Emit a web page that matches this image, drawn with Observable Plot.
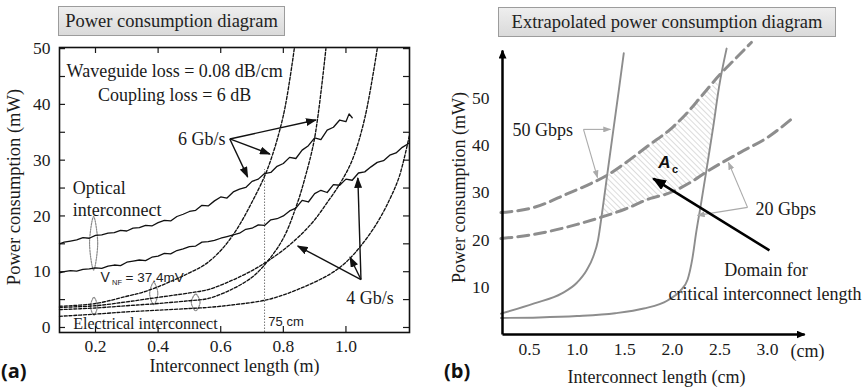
<!DOCTYPE html>
<html><head><meta charset="utf-8">
<script src="https://cdn.jsdelivr.net/npm/d3@7"></script>
<script src="https://cdn.jsdelivr.net/npm/@observablehq/plot@0.6"></script>
<style>
body{margin:0;background:#fff;}
#wrap{position:relative;width:868px;height:388px;overflow:hidden;background:#fff;}
#wrap svg{position:absolute;top:0;overflow:visible;}
.titlebox{position:absolute;box-sizing:border-box;border:1px solid #9c9c9c;background:linear-gradient(#eeeeee,#dadada);font-family:"Liberation Serif",serif;font-size:18.5px;color:#222;display:flex;align-items:center;justify-content:center;white-space:nowrap;}
.panel{position:absolute;font-family:"Open Sans",sans-serif;font-weight:700;font-size:20px;color:#111;line-height:1;}
</style></head><body><div id="wrap"></div>
<script>
// ================= Panel (a) data =================
const xTicksA = [0.2, 0.4, 0.6, 0.8, 1.0];
const yTicksA = [0, 10, 20, 30, 40, 50];
const yMinorTicksA = [0, 5, 10, 15, 20, 25, 30, 35, 40, 45, 50];

// optical interconnect, 6 Gb/s (solid, noisy)
const optical6Gb = [[0.085,15.0],[0.10,15.3],[0.12,15.5],[0.14,15.7],[0.16,16.1],[0.18,16.0],[0.20,16.5],[0.22,16.6],[0.24,16.9],[0.26,17.0],[0.28,17.4],[0.30,17.3],[0.32,17.8],[0.34,17.9],[0.36,18.3],[0.38,18.2],[0.40,18.8],[0.42,19.2],[0.44,19.1],[0.46,19.9],[0.48,20.3],[0.50,20.8],[0.52,21.0],[0.54,21.9],[0.56,21.8],[0.58,22.7],[0.60,23.4],[0.62,23.2],[0.64,24.3],[0.66,24.8],[0.68,25.1],[0.70,26.2],[0.72,26.6],[0.74,27.6],[0.76,27.8],[0.78,28.9],[0.80,29.4],[0.82,30.5],[0.84,30.3],[0.86,31.8],[0.88,32.6],[0.90,34.0],[0.92,33.7],[0.94,35.4],[0.96,35.9],[0.98,37.2],[1.00,36.9],[1.01,38.3],[1.02,37.6]];
// optical interconnect, 4 Gb/s (solid, noisy)
const optical4Gb = [[0.085,9.8],[0.10,10.0],[0.12,10.2],[0.14,10.1],[0.16,10.4],[0.18,10.5],[0.20,10.7],[0.22,10.6],[0.24,11.0],[0.26,11.2],[0.28,11.1],[0.30,11.7],[0.32,11.9],[0.34,12.1],[0.36,12.0],[0.38,12.6],[0.40,12.8],[0.42,13.3],[0.44,13.2],[0.46,13.8],[0.48,14.1],[0.50,14.5],[0.52,14.6],[0.54,15.3],[0.56,15.4],[0.58,15.6],[0.60,16.0],[0.62,16.3],[0.64,16.6],[0.66,16.9],[0.68,17.6],[0.70,17.8],[0.72,18.4],[0.74,18.3],[0.76,19.3],[0.78,19.5],[0.80,20.0],[0.82,20.9],[0.84,21.4],[0.86,22.8],[0.88,22.5],[0.90,24.0],[0.92,24.6],[0.94,24.2],[0.96,25.6],[0.98,25.5],[1.00,26.6],[1.02,26.4],[1.04,27.7],[1.06,27.9],[1.08,28.8],[1.10,29.6],[1.12,29.9],[1.14,30.9],[1.16,31.3],[1.18,32.3],[1.20,33.0]];
// electrical interconnect (dashed)
const electrical6GbHigh = [[0.085,3.8],[0.2,4.3],[0.3,5.6],[0.35,6.3],[0.4,7.3],[0.45,8.5],[0.5,9.8],[0.55,11.3],[0.6,13.8],[0.65,17.5],[0.7,22.5],[0.75,28.5],[0.8,38],[0.835,50]];
const electrical4GbHigh = [[0.085,3.6],[0.2,3.9],[0.3,4.6],[0.4,5.4],[0.5,6.2],[0.56,6.8],[0.63,8.3],[0.7,10.2],[0.75,11.9],[0.8,13.9],[0.85,16.3],[0.9,19.3],[0.94,22.4],[0.98,25.7],[1.02,30],[1.06,37.5],[1.1,50]];
const electrical6GbLow = [[0.085,3.2],[0.2,3.5],[0.3,3.9],[0.4,4.3],[0.5,4.8],[0.56,5.2],[0.63,6.7],[0.7,9.0],[0.75,11.9],[0.8,16.0],[0.843,22.0],[0.87,27],[0.9,34],[0.936,50]];
const electrical4GbLow = [[0.085,2.0],[0.2,2.4],[0.3,2.8],[0.4,3.1],[0.5,3.4],[0.56,3.6],[0.63,4.0],[0.75,5.0],[0.85,6.9],[0.95,9.6],[1.0,11.7],[1.05,14.8],[1.1,18.8],[1.14,23.0],[1.17,27.0],[1.203,34.5]];
const lengthMark = 0.74;      // "75 cm"
const lengthMarkTop = 28.3;

// ================= Panel (b) data =================
const xTicksB = [0.5, 1.0, 1.5, 2.0, 2.5, 3.0];
const yTicksB = [10, 20, 30, 40, 50];
const electrical50G = [[0.2,4.4],[0.55,6.6],[0.84,8.7],[1.0,11.0],[1.1,13.6],[1.17,16.5],[1.22,20.0],[1.26,25.4],[1.315,33.6],[1.38,43.2],[1.44,52.0],[1.49,59.5]];
const electrical20G = [[0.2,3.5],[0.6,3.6],[1.0,3.9],[1.4,4.5],[1.7,5.5],[1.95,7.2],[2.08,9.2],[2.16,11.6],[2.21,16],[2.25,21.5],[2.3,27.5],[2.36,35],[2.43,44],[2.49,52.3],[2.57,60.5]];
const optical50G = [[0.2,25.8],[0.55,26.9],[0.9,29.8],[1.15,32.0],[1.315,33.7],[1.5,36.2],[1.75,40.0],[2.0,43.8],[2.16,47.0],[2.3,50.3],[2.5,55.0],[2.66,58.3],[2.83,61.8]];
const optical20G = [[0.2,20.3],[0.55,21.2],[1.0,23.3],[1.25,24.8],[1.5,26.5],[1.77,28.8],[1.95,29.8],[2.2,32.3],[2.35,34.3],[2.72,38.6],[3.0,41.7],[3.27,45.9]];
const criticalDomain = [[1.26,24.9],[1.315,33.7],[1.5,36.2],[1.75,40.0],[2.0,43.8],[2.16,47.0],[2.3,50.3],[2.485,54.0],[2.43,44.5],[2.36,35.0],[2.35,34.3],[2.2,32.3],[1.95,29.8],[1.77,28.8],[1.5,26.5],[1.26,24.9]];

// ================= annotations (data coordinates) =================
const centeredA = [
  {x:0.453, y:45.9, t:"Waveguide loss = 0.08 dB/cm"},
  {x:0.453, y:41.7, t:"Coupling loss = 6 dB"},
  {x:0.539, y:33.7, t:"6 Gb/s"},
  {x:1.077, y:5.3, t:"4 Gb/s"}
];
const leftA = [
  {x:0.127, y:24.9, t:"Optical"},
  {x:0.127, y:21.0, t:"interconnect"}
];
const elecLabelA = [{x:0.129, y:0.6, t:"Electrical interconnect"}];
const arrowsA = [
  {x1:0.629,y1:33.8,x2:0.904,y2:37.2},{x1:0.629,y1:33.8,x2:0.757,y2:31.1},{x1:0.629,y1:33.8,x2:0.686,y2:27.0},
  {x1:1.048,y1:8.6,x2:1.038,y2:26.8},{x1:1.048,y1:8.6,x2:1.013,y2:12.6},{x1:1.048,y1:8.6,x2:0.846,y2:14.6}
];
const ellipsesA = [
  {id:1, cx:0.194, cy:15.1, rx:0.013, ry:4.8},
  {id:2, cx:0.195, cy:3.8, rx:0.011, ry:1.6},
  {id:3, cx:0.386, cy:6.1, rx:0.013, ry:2.0},
  {id:4, cx:0.52, cy:4.5, rx:0.014, ry:1.5}
];
const ellipsePts = ellipsesA.flatMap(e => [
  {id:e.id, x:e.cx, y:e.cy+e.ry},{id:e.id, x:e.cx+e.rx, y:e.cy},
  {id:e.id, x:e.cx, y:e.cy-e.ry},{id:e.id, x:e.cx-e.rx, y:e.cy}]);

const axisEndsB = [{x1:0.2164,y1:0,x2:3.39,y2:0},{x1:0.2164,y1:0,x2:0.2164,y2:60.1}];
const greyArrowsB = [
  {x1:1.067,y1:43.4,x2:1.35,y2:43.4},{x1:1.067,y1:43.4,x2:1.214,y2:33.2},
  {x1:2.79,y1:26.9,x2:2.265,y2:25.2},{x1:2.79,y1:26.9,x2:2.59,y2:36.4}
];
const pointerB = [{x1:3.02,y1:17.8,x2:1.80,y2:33.0}];
const leftB = [
  {x:0.321, y:43.2, t:"50 Gbps"},
  {x:2.874, y:26.6, t:"20 Gbps"}
];
const centeredB = [
  {x:2.984, y:13.7, t:"Domain for"},
  {x:2.974, y:8.6, t:"critical interconnect length"}
];

// ================= helpers =================
const NS = "http://www.w3.org/2000/svg";
function addDefs(svg, html){ const d=document.createElementNS(NS,"defs"); d.innerHTML=html; svg.insertBefore(d, svg.firstChild); }
function head(id,color,len,wid){ return `<marker id="${id}" viewBox="0 0 10 10" refX="9" refY="5" markerUnits="userSpaceOnUse" markerWidth="${len}" markerHeight="${wid}" orient="auto" preserveAspectRatio="none"><path d="M0,0L10,5L0,10z" fill="${color}"/></marker>`; }
const px = d => d[0], py = d => d[1];
const serif = "Liberation Serif";
const sans = "Liberation Sans";

// ================= Panel (a) =================
const dashA = {x:px, y:py, stroke:"#111", strokeWidth:1.35, strokeDasharray:"3,1.8", curve:"catmull-rom"};
const svgA = Plot.plot({
  width: 434, height: 388,
  marginLeft: 59, marginRight: 25, marginTop: 47, marginBottom: 56,
  style: {background:"transparent", fontFamily: serif, fontSize:"17.5px", color:"#1a1a1a", overflow:"visible"},
  x: {domain:[0.085,1.203], ticks:xTicksA, tickFormat:d=>d.toFixed(1), tickSize:0, tickPadding:7, label:null},
  y: {domain:[-0.9,50.2], ticks:yTicksA, tickSize:0, tickPadding:9, label:null},
  marks: [
    Plot.tickX(xTicksA, {x:d=>d, insetTop:279, stroke:"#1a1a1a", strokeWidth:1.2}),
    Plot.tickX(xTicksA, {x:d=>d, insetBottom:279, stroke:"#1a1a1a", strokeWidth:1.2}),
    Plot.tickY(yMinorTicksA, {y:d=>d, insetRight:344, stroke:"#1a1a1a", strokeWidth:1.2}),
    Plot.tickY(yMinorTicksA, {y:d=>d, insetLeft:344, stroke:"#1a1a1a", strokeWidth:1.2}),
    Plot.ruleX([lengthMark], {y1:-0.9, y2:lengthMarkTop, stroke:"#777", strokeWidth:1, strokeDasharray:"1.5,1.5"}),
    Plot.line(ellipsePts, {x:"x", y:"y", z:"id", curve:"cardinal-closed", stroke:"#8a8a8a", strokeWidth:1.2, strokeDasharray:"1.5,1.2"}),
    Plot.line(electrical6GbHigh, dashA),
    Plot.line(electrical4GbHigh, dashA),
    Plot.line(electrical6GbLow, dashA),
    Plot.line(electrical4GbLow, dashA),
    Plot.line(optical6Gb, {x:px, y:py, stroke:"#111", strokeWidth:1.3}),
    Plot.line(optical4Gb, {x:px, y:py, stroke:"#111", strokeWidth:1.3}),
    Plot.link(arrowsA, {x1:"x1", y1:"y1", x2:"x2", y2:"y2", stroke:"#111", strokeWidth:1.4}),
    Plot.text(centeredA, {x:"x", y:"y", text:"t", textAnchor:"middle", fontSize:18, fontFamily:serif, fill:"#1a1a1a"}),
    Plot.text(leftA, {x:"x", y:"y", text:"t", textAnchor:"start", fontSize:18, fontFamily:serif, fill:"#1a1a1a"}),
    Plot.text(elecLabelA, {x:"x", y:"y", text:"t", textAnchor:"start", fontSize:16, fontFamily:serif, fill:"#1a1a1a"}),
    Plot.text([{x:0.216,y:9.0,t:"V"}], {x:"x", y:"y", text:"t", textAnchor:"start", fontSize:14, fontFamily:sans, fill:"#222"}),
    Plot.text([{x:0.253,y:8.1,t:"NF"}], {x:"x", y:"y", text:"t", textAnchor:"start", fontSize:7.5, fontFamily:sans, fill:"#222"}),
    Plot.text([{x:0.296,y:9.0,t:"= 37.4mV"}], {x:"x", y:"y", text:"t", textAnchor:"start", fontSize:13.5, fontFamily:sans, fill:"#222"}),
    Plot.text([{x:0.752,y:1.0,t:"75 cm"}], {x:"x", y:"y", text:"t", textAnchor:"start", fontSize:13, fontFamily:sans, fill:"#222"}),
    Plot.text(["Interconnect length (m)"], {frameAnchor:"bottom", textAnchor:"middle", dy:39, fontSize:18, fontFamily:serif, fill:"#1a1a1a"}),
    Plot.text(["Power consumption (mW)"], {frameAnchor:"left", textAnchor:"middle", dx:-45, dy:-3, rotate:-90, fontSize:18.5, fontFamily:serif, fill:"#1a1a1a"}),
    Plot.frame({stroke:"#111", strokeWidth:1.6})
  ]
});
addDefs(svgA, head("hdA","#111",11,8));
svgA.querySelectorAll('g[aria-label="link"] path').forEach(p => p.setAttribute("marker-end","url(#hdA)"));

// ================= Panel (b) =================
const greyB = "#8d8d8d";
const svgB = Plot.plot({
  width: 434, height: 388,
  marginLeft: 68, marginRight: 48.6, marginTop: 41, marginBottom: 54,
  style: {background:"transparent", fontFamily: serif, fontSize:"17.5px", color:"#1a1a1a", overflow:"visible"},
  x: {domain:[0.2164,3.55], ticks:xTicksB, tickFormat:d=>d.toFixed(1), tickSize:0, tickPadding:8, label:null},
  y: {domain:[0,62], ticks:yTicksB, tickSize:0, tickPadding:13, label:null},
  marks: [
    Plot.line(criticalDomain, {x:px, y:py, fill:"url(#hatchB)", stroke:"none"}),
    Plot.line(electrical50G, {x:px, y:py, stroke:greyB, strokeWidth:1.9, curve:"monotone-x"}),
    Plot.line(electrical20G, {x:px, y:py, stroke:greyB, strokeWidth:1.9, curve:"monotone-x"}),
    Plot.line(optical50G, {x:px, y:py, stroke:greyB, strokeWidth:3, strokeDasharray:"11,6", curve:"monotone-x"}),
    Plot.line(optical20G, {x:px, y:py, stroke:greyB, strokeWidth:3, strokeDasharray:"11,6", curve:"monotone-x"}),
    Plot.link(axisEndsB, {x1:"x1", y1:"y1", x2:"x2", y2:"y2", stroke:"#000", strokeWidth:2.5}),
    Plot.link(greyArrowsB, {x1:"x1", y1:"y1", x2:"x2", y2:"y2", stroke:"#aaaaaa", strokeWidth:1.1}),
    Plot.link(pointerB, {x1:"x1", y1:"y1", x2:"x2", y2:"y2", stroke:"#000", strokeWidth:2.6}),
    Plot.text(leftB, {x:"x", y:"y", text:"t", textAnchor:"start", fontSize:18, fontFamily:serif, fill:"#1a1a1a"}),
    Plot.text(centeredB, {x:"x", y:"y", text:"t", textAnchor:"middle", fontSize:18, fontFamily:serif, fill:"#1a1a1a"}),
    Plot.text([{x:1.918,y:36.4,t:"A"}], {x:"x", y:"y", text:"t", fontSize:17, fontWeight:"bold", fontStyle:"italic", fontFamily:sans, fill:"#111"}),
    Plot.text([{x:2.03,y:34.9,t:"c"}], {x:"x", y:"y", text:"t", fontSize:11, fontWeight:"bold", fontFamily:sans, fill:"#111"}),
    Plot.text([{x:3.42,y:0,t:"(cm)"}], {x:"x", y:"y", text:"t", dy:17, fontSize:18, fontFamily:serif, fill:"#1a1a1a"}),
    Plot.text([{x:1.834,y:0,t:"Interconnect length (cm)"}], {x:"x", y:"y", text:"t", dy:43, fontSize:18, fontFamily:serif, fill:"#1a1a1a"}),
    Plot.text([{x:0.2164,y:31.1,t:"Power consumption (mW)"}], {x:"x", y:"y", text:"t", textAnchor:"middle", dx:-43, rotate:-90, fontSize:18, fontFamily:serif, fill:"#1a1a1a"})
  ]
});
addDefs(svgB,
  `<pattern id="hatchB" patternUnits="userSpaceOnUse" width="4" height="4" patternTransform="rotate(-45)"><line x1="0" y1="0" x2="0" y2="4" stroke="#b9b9b9" stroke-width="1"/></pattern>` +
  head("hdAxis","#000",9,8) + head("hdGrey","#aaaaaa",8,6) + head("hdPtr","#000",14,11));
const linkGroupsB = svgB.querySelectorAll('g[aria-label="link"]');
const markerIds = ["hdAxis","hdGrey","hdPtr"];
linkGroupsB.forEach((g,i) => g.querySelectorAll("path").forEach(p => p.setAttribute("marker-end",`url(#${markerIds[i]})`)));

// ================= assemble =================
const wrap = document.getElementById("wrap");
svgA.style.left = "0px"; svgB.style.left = "434px";
wrap.appendChild(svgA); wrap.appendChild(svgB);
function box(text,l,t,w,h){ const d=document.createElement("div"); d.className="titlebox"; d.textContent=text; Object.assign(d.style,{left:l+"px",top:t+"px",width:w+"px",height:h+"px"}); wrap.appendChild(d); }
box("Power consumption diagram",58,6,227,30);
box("Extrapolated power consumption diagram",498,7,338,30);
function panel(text,l,t){ const d=document.createElement("div"); d.className="panel"; d.textContent=text; Object.assign(d.style,{left:l+"px",top:t+"px"}); wrap.appendChild(d); }
panel("(a)",1,361); panel("(b)",444,361);
</script></body></html>
